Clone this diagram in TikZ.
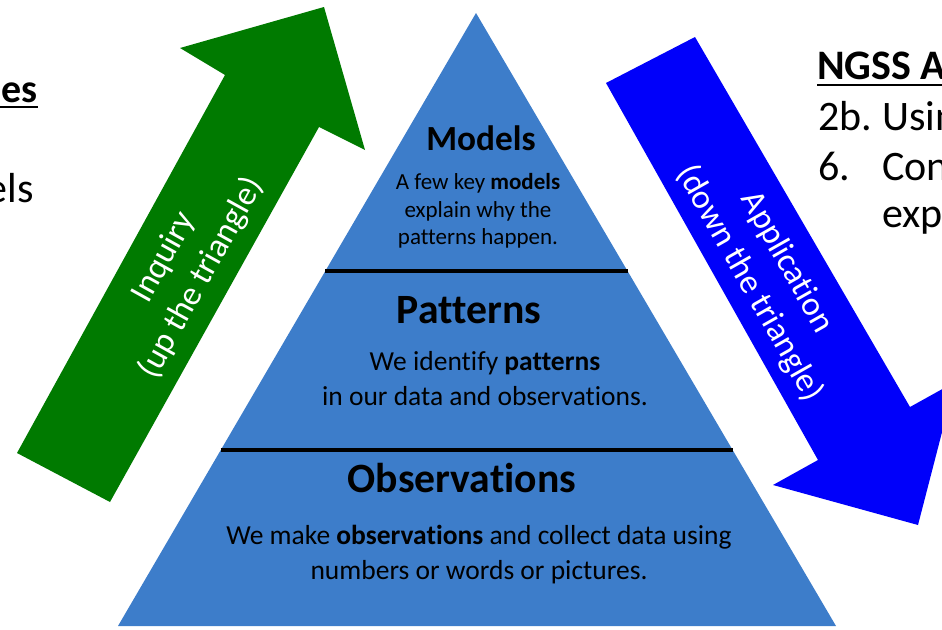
\documentclass[tikz,border=0pt]{standalone}
\usepackage{fontspec}
\setmainfont{Carlito}[Ligatures={CommonOff}]
\usetikzlibrary{calc}
\definecolor{pyrblue}{RGB}{61,125,202}
\definecolor{inqgreen}{RGB}{0,122,0}
\definecolor{appblue}{RGB}{0,0,250}
\tikzset{
  divider/.style={line width=3.5pt,black},
  heading/.style={font=\bfseries\fontsize{41.7}{46}\selectfont,inner sep=0pt},
  bodytxt/.style={font=\fontsize{27.5}{35}\selectfont,align=center,inner sep=0pt},
  arrowtxt/.style={font=\fontsize{34}{43}\selectfont,align=center,text=white,inner sep=0pt},
  sidetxt/.style={font=\fontsize{42}{46}\selectfont,inner sep=0pt},
}
\begin{document}
\begin{tikzpicture}[x=1pt,y=-1pt]
\useasboundingbox (0,0) rectangle (942,629);
\clip (0,0) rectangle (942,629);
% pyramid
\coordinate (apex) at (476,13);
\coordinate (bl) at (118,626);
\coordinate (br) at (836,626);
\fill[pyrblue] (apex) -- (bl) -- (br) -- cycle;
\draw[divider] ($(apex)!0.421!(bl)$) -- ($(apex)!0.421!(br)$);
\draw[divider] ($(apex)!0.713!(bl)$) -- ($(apex)!0.713!(br)$);
% pyramid texts
\node[heading,font=\bfseries\fontsize{35.3}{40}\selectfont] (models) at (481,138) {Models};
\node[bodytxt,font=\fontsize{23}{27.5}\selectfont] (modelsbody) at (478,211) {A few key \textbf{models}\\explain why the\\patterns happen.};
\node[heading] (patterns) at (469,310) {Patterns};
\node[bodytxt] (patternsbody) at (485,379) {We identify \textbf{patterns}\\in our data and observations.};
\node[heading] (obs) at (462,478) {Observations};
\node[bodytxt] (obsbody) at (479,555) {We make \textbf{observations} and collect data using\\numbers or words or pictures.};
% green arrow
\fill[inqgreen] (17,453) -- (225,75) -- (180,48) -- (324,7) -- (365,150) -- (319,127) -- (110,502) -- cycle;
\node[arrowtxt,rotate=61] (inquiry) at (183,268) {Inquiry\\(up the triangle)};
% blue arrow
\fill[appblue] (606,83) -- (695,37) -- (910,407) -- (955,382) -- (918,525) -- (773,485) -- (818,460) -- cycle;
\node[arrowtxt,rotate=-60.5] (application) at (768,273) {Application\\(down the triangle)};
% left partial text
\node[sidetxt,font=\bfseries\fontsize{40}{44}\selectfont,anchor=base east] (lefthead) at (38,102) {es};
\draw[line width=2.5pt] (0,107) -- (lefthead.east |- 0,107);
\node[sidetxt,anchor=base east] (leftline) at (34,202) {els};
% right partial text
\node[sidetxt,font=\bfseries\fontsize{42}{46}\selectfont,anchor=base west] (righthead) at (817,79) {NGSS A};
\draw[line width=2.5pt] (817,85) -- (942,85);
\node[sidetxt,anchor=base west] (r1) at (818,130) {2b.};
\node[sidetxt,anchor=base west] (r1b) at (882,130) {Usin};
\node[sidetxt,anchor=base west] (r2) at (818,180) {6.};
\node[sidetxt,anchor=base west] (r2b) at (882,180) {Con};
\node[sidetxt,anchor=base west] (r3) at (882,227) {exp};
\end{tikzpicture}
\end{document}
